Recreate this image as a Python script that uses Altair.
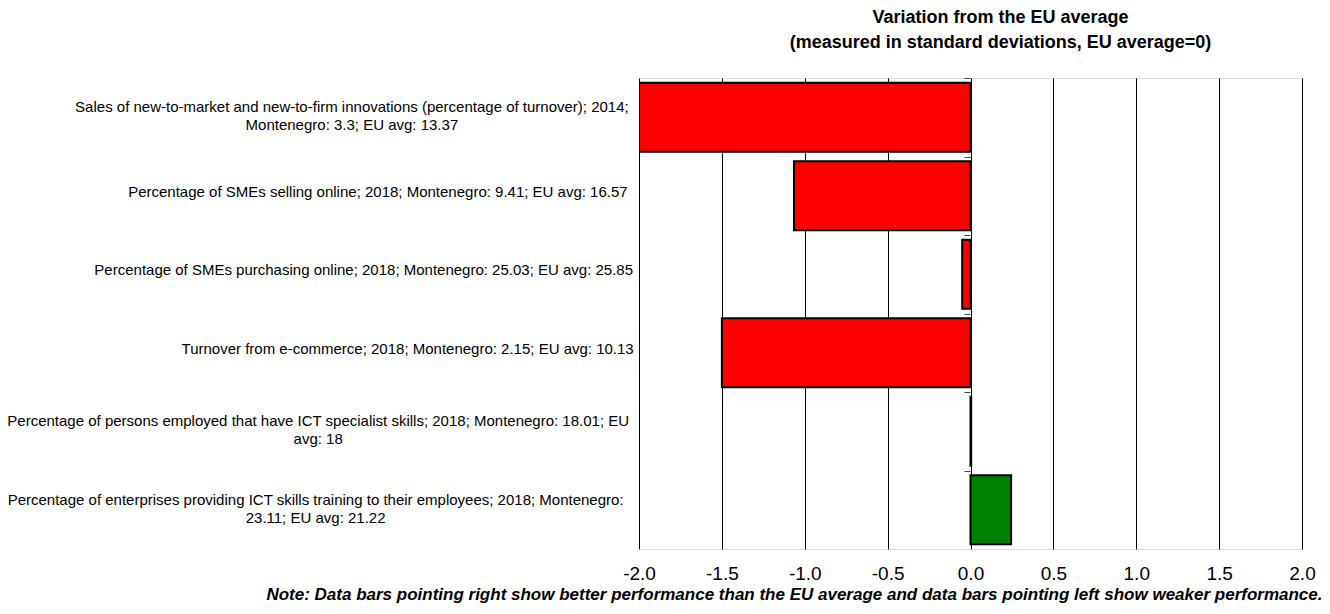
import altair as alt
import pandas as pd

categories = [
    "Sales of new-to-market and new-to-firm innovations (percentage of turnover); 2014;\nMontenegro: 3.3; EU avg: 13.37",
    "Percentage of SMEs selling online; 2018; Montenegro: 9.41; EU avg: 16.57",
    "Percentage of SMEs purchasing online; 2018; Montenegro: 25.03; EU avg: 25.85",
    "Turnover from e-commerce; 2018; Montenegro: 2.15; EU avg: 10.13",
    "Percentage of persons employed that have ICT specialist skills; 2018; Montenegro: 18.01; EU\navg: 18",
    "Percentage of enterprises providing ICT skills training to their employees; 2018; Montenegro:\n23.11; EU avg: 21.22",
]
values = [-2.0, -1.065, -0.05, -1.50, 0.004, 0.245]
x_ticks = [-2.0, -1.5, -1.0, -0.5, 0.0, 0.5, 1.0, 1.5, 2.0]

title_lines = ["Variation from the EU average", "(measured in standard deviations, EU average=0)"]
note = "Note: Data bars pointing right show better performance than the EU average and data bars pointing left show weaker performance."

df = pd.DataFrame({"category": categories, "value": values})

FONT = "Liberation Sans"

first_line = "split(datum.value, '\\n')[0]"
n_all = f"length({first_line})"
n_nodigit = f"length(replace({first_line}, regexp('[0-9]', 'g'), ''))"
pad_expr = f"13 + {n_nodigit} * 3.3 + ({n_all} - {n_nodigit}) * 4.3"
off_expr = "length(split(datum.value, '\\n')) > 1 ? -10 : -4"

y_scale = alt.Scale(paddingInner=0.12, paddingOuter=0.06)

bars = alt.Chart(df).mark_bar(stroke="black", strokeWidth=2, clip=True).encode(
    x=alt.X("value:Q",
            scale=alt.Scale(domain=[-2, 2], nice=False, zero=False),
            axis=alt.Axis(values=x_ticks, format=".1f", grid=True, gridColor="black",
                          gridWidth=1, gridOpacity=1, domain=False, ticks=False,
                          labelFlush=False,
                          labelExpr="replace(datum.label, '\u2212', '-')",
                          labelFont=FONT, labelFontSize=19, labelColor="black",
                          labelPadding=15, title=note, titleFont=FONT, titleFontSize=17,
                          titleFontWeight="bold", titleFontStyle="italic", titleColor="black",
                          titleAlign="right", titleAnchor="end", titleX=683, titleY=50,
                          titleBaseline="alphabetic")),
    y=alt.Y("category:N", sort=None, scale=y_scale,
            axis=alt.Axis(title=None, domain=False, ticks=False, grid=False,
                          labelExpr="split(datum.label, '\\n')",
                          labelAlign="center", labelBaseline="middle",
                          labelPadding={"expr": pad_expr},
                          labelOffset={"expr": off_expr},
                          labelFont=FONT, labelFontSize=15, labelColor="black",
                          labelLineHeight=18, labelLimit=0)),
    color=alt.condition("datum.value > 0", alt.value("#008000"), alt.value("#FF0000")),
)

# category-axis ticks drawn where the category axis crosses x = 0
zero_ticks = alt.Chart(df).mark_bar(opacity=0).encode(
    y=alt.Y("category:N", sort=None, scale=y_scale,
            axis=alt.Axis(title=None, orient="left", offset=-331, labels=False,
                          domain=False, grid=False, ticks=True, tickSize=6,
                          tickColor="#444444", tickWidth=1, bandPosition=0,
                          tickOffset=-4.7)),
)

chart = alt.layer(bars, zero_ticks).resolve_axis(y="independent").properties(
    width=663, height=471,
    autosize=alt.AutoSizeParams(type="none"),
    padding={"left": 631, "top": 70, "right": 20, "bottom": 54},
    title=alt.TitleParams(text=title_lines, font=FONT, fontSize=18, fontWeight="bold",
                          color="black", anchor="middle", dx=30, offset=26, lineHeight=25),
).configure_view(stroke="black", strokeWidth=1).configure(background="white")

chart.save("out.html", embed_options={"renderer": "svg", "actions": False})
